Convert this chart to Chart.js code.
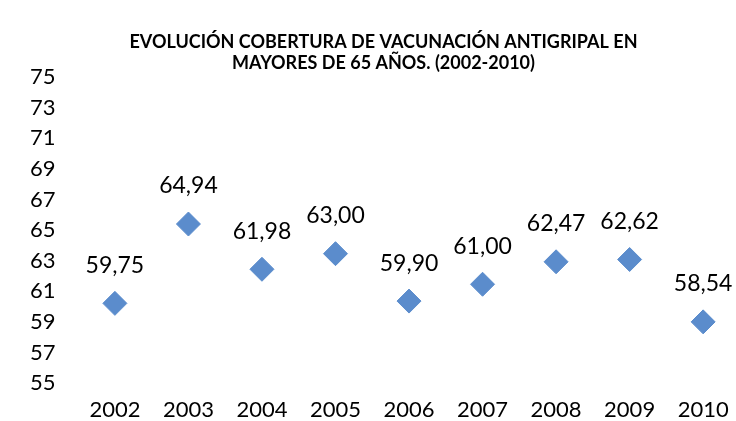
<!DOCTYPE html>
<html>
<head>
<meta charset="utf-8">
<script src="https://cdn.jsdelivr.net/npm/chart.js@4.4.1/dist/chart.umd.min.js"></script>
<style>
	html, body { margin: 0; padding: 0; background: #fff; }
	#wrap { width: 736px; height: 421px; position: relative; }
</style>
</head>
<body>
<div id="wrap"><canvas id="chart"></canvas></div>
<script>
const years = [2002, 2003, 2004, 2005, 2006, 2007, 2008, 2009, 2010]
const coverage = [59.75, 64.94, 61.98, 63.00, 59.90, 61.00, 62.47, 62.62, 58.54]
const titleLines = ['EVOLUCIÓN COBERTURA DE VACUNACIÓN ANTIGRIPAL EN', 'MAYORES DE 65 AÑOS. (2002-2010)']

const fontFamily = "Lato, 'Open Sans', sans-serif"
const markerColor = '#5b8ccc'

// draws the value above each diamond, with a decimal comma
const valueLabels = {
	id: 'valueLabels',
	afterDatasetsDraw(chart) {
		const ctx = chart.ctx
		const meta = chart.getDatasetMeta(0)
		ctx.save()
		ctx.font = '23px ' + fontFamily
		ctx.fillStyle = '#000'
		ctx.textAlign = 'center'
		ctx.textBaseline = 'middle'
		meta.data.forEach((pt, i) => {
			let txt = coverage[i].toFixed(2).replace('.', ',')
			ctx.fillText(txt, pt.x, pt.y - 38)
		})
		ctx.restore()
	}
}

const chart = new Chart(document.getElementById('chart'), {
	type: 'scatter',
	data: {
		datasets: [{
			data: years.map((y, i) => ({x: y, y: coverage[i]})),
			pointStyle: 'rectRot',
			pointRadius: 12,
			pointHoverRadius: 12,
			backgroundColor: markerColor,
			borderColor: markerColor,
			borderWidth: 1,
			showLine: false
		}]
	},
	options: {
		responsive: true,
		maintainAspectRatio: false,
		animation: false,
		layout: { padding: { left: 22, right: -9, top: 31, bottom: 0 } },
		plugins: {
			legend: { display: false },
			tooltip: { enabled: false },
			title: {
				display: true,
				text: titleLines,
				color: '#000',
				font: { family: fontFamily, size: 18, weight: 'bold', lineHeight: 1.2 },
				padding: { top: 0, bottom: -4 }
			}
		},
		scales: {
			x: {
				type: 'linear',
				min: 2001.41,
				max: 2010.27,
				grid: { display: false },
				border: { display: false },
				afterBuildTicks: (axis) => { axis.ticks = years.map(v => ({value: v})) },
				afterFit: (axis) => { axis.height = 45; axis.paddingRight = 0 },
				ticks: {
					color: '#000',
					font: { family: fontFamily, size: 22 },
					padding: 13,
					callback: (v) => String(v)
				}
			},
			y: {
				min: 55,
				max: 75,
				grid: { display: false },
				border: { display: false },
				ticks: {
					stepSize: 2,
					color: '#000',
					font: { family: fontFamily, size: 22 },
					padding: 8,
					labelOffset: 7
				}
			}
		}
	},
	plugins: [valueLabels]
})
</script>
</body>
</html>
